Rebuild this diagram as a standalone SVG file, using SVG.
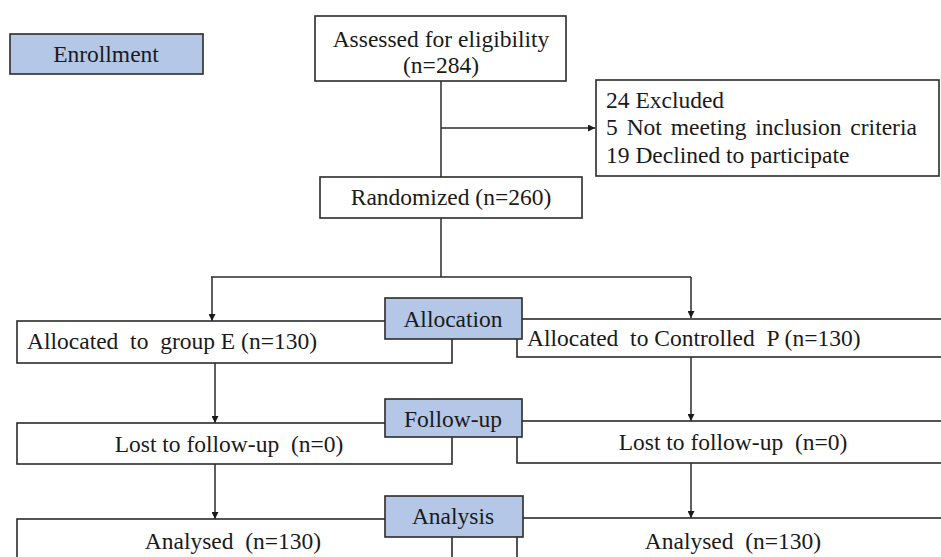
<svg xmlns="http://www.w3.org/2000/svg" width="941" height="557" viewBox="0 0 941 557">
<style>
.box{fill:#ffffff;stroke:#2b2b2b;stroke-width:1.6}
.lab{fill:#b4c7e7;stroke:#2b2b2b;stroke-width:1.6}
.t{font-family:"Liberation Serif","Times New Roman",serif;font-size:23.5px;fill:#1a1a1a}
.m{text-anchor:middle}
.c{fill:none;stroke:#2b2b2b;stroke-width:1.5}
</style>
<defs>
<marker id="ah" viewBox="0 0 10 10" refX="10" refY="5" markerWidth="7" markerHeight="7" markerUnits="userSpaceOnUse" orient="auto">
<path d="M0,0 L10,5 L0,10 z" fill="#1a1a1a"/>
</marker>
</defs>
<rect width="941" height="557" fill="#ffffff"/>
<g id="connectors">
<line class="c" x1="441" y1="81" x2="441" y2="177"/>
<line class="c" x1="441" y1="128" x2="595" y2="128" marker-end="url(#ah)"/>
<line class="c" x1="441" y1="218" x2="441" y2="277"/>
<line class="c" x1="211" y1="277" x2="691" y2="277"/>
<line class="c" x1="212" y1="277" x2="212" y2="321" marker-end="url(#ah)"/>
<line class="c" x1="691" y1="277" x2="691" y2="318" marker-end="url(#ah)"/>
<line class="c" x1="215" y1="363" x2="215" y2="423" marker-end="url(#ah)"/>
<line class="c" x1="691" y1="357" x2="691" y2="421" marker-end="url(#ah)"/>
<line class="c" x1="215" y1="464" x2="215" y2="519" marker-end="url(#ah)"/>
<line class="c" x1="691" y1="463" x2="691" y2="518" marker-end="url(#ah)"/>
</g>
<g id="enrollment">
<rect class="lab" x="10" y="34" width="193" height="40"/>
<text class="t m" x="106" y="62">Enrollment</text>
</g>
<g id="assessed">
<rect class="box" x="315" y="16" width="251" height="65"/>
<text class="t m" x="441" y="47">Assessed for eligibility</text>
<text class="t m" x="441" y="73">(n=284)</text>
</g>
<g id="excluded">
<rect class="box" x="596" y="80" width="343" height="96"/>
<text class="t" x="606" y="108">24 Excluded</text>
<text class="t" x="606" y="135" word-spacing="3">5 Not meeting inclusion criteria</text>
<text class="t" x="606" y="163">19 Declined to participate</text>
</g>
<g id="randomized">
<rect class="box" x="320" y="177" width="262" height="41"/>
<text class="t m" x="451" y="205">Randomized (n=260)</text>
</g>
<g id="allocE">
<rect class="box" x="17" y="321" width="435" height="42"/>
<text class="t" x="27" y="349" xml:space="preserve">Allocated  to  group E (n=130)</text>
</g>
<g id="allocP">
<rect class="box" x="517" y="319" width="440" height="38"/>
<text class="t" x="527" y="346" xml:space="preserve">Allocated  to Controlled  P (n=130)</text>
</g>
<g id="allocation">
<rect class="lab" x="385" y="298" width="137" height="41"/>
<text class="t m" x="453" y="327">Allocation</text>
</g>
<g id="lostE">
<rect class="box" x="17" y="423" width="435" height="41"/>
<text class="t m" x="229" y="452" xml:space="preserve">Lost to follow-up  (n=0)</text>
</g>
<g id="lostP">
<rect class="box" x="517" y="421" width="440" height="42"/>
<text class="t m" x="733" y="450" xml:space="preserve">Lost to follow-up  (n=0)</text>
</g>
<g id="followup">
<rect class="lab" x="385" y="399" width="137" height="38"/>
<text class="t m" x="453" y="427">Follow-up</text>
</g>
<g id="analysedE">
<rect class="box" x="17" y="519" width="435" height="60"/>
<text class="t m" x="233" y="549" xml:space="preserve">Analysed  (n=130)</text>
</g>
<g id="analysedP">
<rect class="box" x="517" y="518" width="440" height="60"/>
<text class="t m" x="733" y="549" xml:space="preserve">Analysed  (n=130)</text>
</g>
<g id="analysis">
<rect class="lab" x="385" y="496" width="138" height="41"/>
<text class="t m" x="453" y="524">Analysis</text>
</g>
</svg>
